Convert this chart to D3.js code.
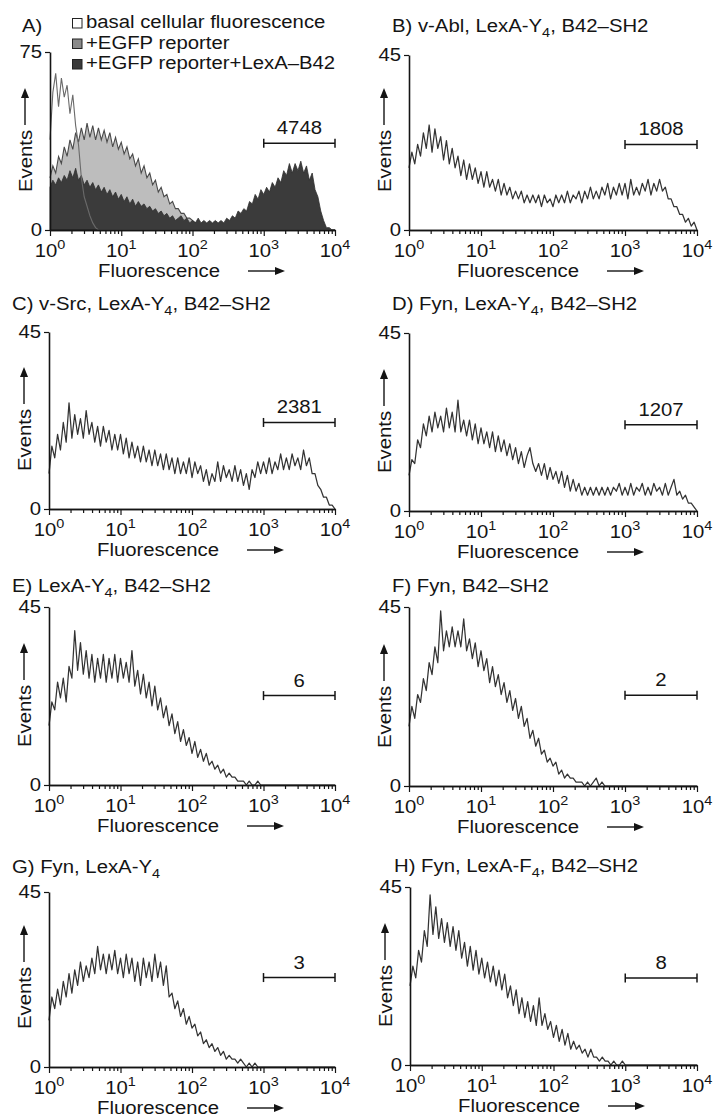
<!DOCTYPE html>
<html><head><meta charset="utf-8">
<script src="https://cdn.jsdelivr.net/npm/d3@7"></script>
<style>html,body{margin:0;padding:0;background:#fff}</style>
</head><body><svg id="c" width="715" height="1117"></svg>
<script>
// ---------- DATA ----------
// histogram channels: log10(fluorescence) from 0 to 4 (bins evenly spaced in log)
const channelExp = d3.range(101).map(i => i * 0.04);

const panelIds = ["A","B","C","D","E","F","G","H"];
const yMaxValues = [75,45,45,45,45,45,45,45];
const gateCounts = ["4748","1808","2381","1207","6","2","3","8"];
const gateRange = [1000, 10000];
const gateLevels = [36.5, 22, 22, 21.8, 22.6, 22.8, 23, 22];

const legendLabels = ["basal cellular fluorescence", "+EGFP reporter", "+EGFP reporter+LexA\u2013B42"];

// titles: [text, kind]  kind: "" normal, "sub" subscript
const titleB = [["B) v-Abl, LexA-Y",""],["4","sub"],[", B42\u2013SH2",""]];
const titleC = [["C) v-Src, LexA-Y",""],["4","sub"],[", B42\u2013SH2",""]];
const titleD = [["D) Fyn, LexA-Y",""],["4","sub"],[", B42\u2013SH2",""]];
const titleE = [["E) LexA-Y",""],["4","sub"],[", B42\u2013SH2",""]];
const titleF = [["F) Fyn, B42\u2013SH2",""]];
const titleG = [["G) Fyn, LexA-Y",""],["4","sub"]];
const titleH = [["H) Fyn, LexA-F",""],["4","sub"],[", B42\u2013SH2",""]];

const xTickExponents = [0,1,2,3,4];

// Panel A: three overlaid histograms
const A_basal = [
38,58,66,52,64,56,61,49,57,44,
36,22,14,10,6,3,1,0,0,0,
0,0,0,0,0,0,0,0,0,0,
0,0,0,0,0,0,0,0,0,0,
0,0,0,0,0,0,0,0,0,0,
0,0,0,0,0,0,0,0,0,0,
0,0,0,0,0,0,0,0,0,0,
0,0,0,0,0,0,0,0,0,0,
0,0,0,0,0,0,0,0,0,0,
0,0,0,0,0,0,0,0,0,0,
0];
const A_egfp = [
22,27,24,31,28,35,31,38,34,41,
37,43,38,45,39,44,38,43,38,42,
37,41,35,39,34,37,32,35,30,32,
27,30,24,27,22,24,19,21,16,18,
14,15,11,12,9,9,7,7,5,5,
4,3,3,2,2,2,1,1,1,1,
1,0,0,0,0,0,0,0,0,0,
0,0,0,0,0,0,0,0,0,0,
0,0,0,0,0,0,0,0,0,0,
0,0,0,0,0,0,0,0,0,0,
0];
const A_lexa = [
18,21,19,22,20,23,21,25,22,26,
21,23,19,21,18,20,17,19,16,18,
15,17,14,16,13,15,12,14,11,13,
10,12,10,11,9,10,8,9,7,8,
6,7,5,6,4,5,6,4,5,3,
4,3,5,3,4,3,4,3,4,3,
4,3,5,4,6,5,8,7,9,8,
12,11,15,13,17,15,18,16,20,18,
22,20,25,23,28,24,28,25,29,24,
27,21,24,17,14,8,4,1,1,0,
0];
const B_counts = [
16,20,17,22,19,25,21,27,20,26,
21,24,18,23,17,21,16,19,14,18,
13,17,13,16,12,15,11,15,11,13,
10,13,9,12,9,11,8,10,8,10,
7,9,7,9,7,9,6,9,7,8,
6,9,7,9,7,10,7,9,8,10,
7,10,8,11,8,10,8,11,9,12,
8,11,9,12,9,12,8,13,9,11,
9,12,10,13,9,12,10,13,10,11,
8,8,6,6,4,4,2,3,1,2,
0];
const C_counts = [
9,16,13,19,15,22,17,27,18,24,
19,23,18,25,19,22,17,21,16,21,
17,20,15,19,15,19,14,18,13,17,
13,16,12,16,12,15,11,15,11,14,
10,14,10,13,9,13,9,12,9,13,
8,12,9,11,7,10,6,9,7,12,
7,11,8,10,7,11,7,10,6,9,
5,10,8,12,9,12,9,13,9,12,
10,14,10,13,10,14,11,13,10,15,
11,13,9,9,6,5,3,3,1,1,
0];
const D_counts = [
9,13,12,18,16,22,19,24,20,25,
21,24,20,26,21,25,20,28,20,23,
19,23,18,22,17,21,17,20,16,20,
15,19,15,18,14,17,13,16,12,15,
11,14,16,12,10,12,9,12,8,11,
8,10,7,10,6,9,5,8,5,7,
4,6,4,6,4,6,4,6,4,6,
4,6,5,7,4,6,4,7,4,6,
5,7,4,6,4,7,5,6,4,7,
4,6,8,4,5,3,4,2,2,1,
0];
const E_counts = [
15,21,19,26,22,27,21,30,27,39,
29,36,28,34,27,33,26,32,27,33,
26,32,27,33,26,32,27,31,26,34,
25,29,23,28,22,26,20,25,19,22,
17,20,15,18,13,16,11,14,10,12,
8,11,7,9,6,8,5,6,4,5,
3,4,2,3,2,2,1,1,1,0,
1,0,0,1,0,0,0,0,0,0,
0,0,0,0,0,0,0,0,0,0,
0,0,0,0,0,0,0,0,0,0,
0];
const F_counts = [
15,20,17,23,21,27,24,31,28,35,
31,44,34,39,35,40,35,39,35,42,
34,37,32,36,30,34,29,32,26,30,
25,28,23,26,21,24,19,22,17,20,
15,17,12,14,10,12,8,9,6,7,
5,6,3,4,2,3,2,2,1,1,
1,0,1,0,1,2,0,1,0,0,
0,0,0,0,0,0,0,0,0,0,
0,0,0,0,0,0,0,0,0,0,
0,0,0,0,0,0,0,0,0,0,
0];
const G_counts = [
12,18,15,20,16,22,18,24,19,25,
21,27,22,26,23,28,24,31,25,29,
24,29,25,30,24,28,23,29,24,28,
22,27,21,28,23,27,22,29,23,27,
21,26,18,19,15,17,13,15,11,13,
10,11,8,9,6,7,5,6,4,5,
3,4,2,3,2,2,1,2,1,0,
1,0,1,0,0,0,0,0,0,0,
0,0,0,0,0,0,0,0,0,0,
0,0,0,0,0,0,0,0,0,0,
0];
const H_counts = [
20,25,22,29,26,34,30,43,33,40,
32,37,31,36,30,35,29,34,27,31,
25,30,24,29,23,27,22,26,21,25,
20,24,19,23,17,20,15,19,13,17,
12,16,11,15,10,17,10,13,9,11,
7,10,6,9,5,8,4,6,4,5,
3,4,2,4,2,2,1,2,1,1,
0,1,0,0,1,0,0,0,0,0,
0,0,0,0,0,0,0,0,0,0,
0,0,0,0,0,0,0,0,0,0,
0];

// ---------- LAYOUT ----------
const layout = [
  {x0:50,  x1:335, T:52,  Z:230,  tx:22,  ty:32},
  {x0:409, x1:697, T:55,  Z:230,  tx:392, ty:32},
  {x0:49,  x1:335, T:332, Z:509,  tx:12,  ty:310},
  {x0:409, x1:697, T:333, Z:511,  tx:392, ty:310},
  {x0:49,  x1:335, T:607, Z:785,  tx:12,  ty:592},
  {x0:409, x1:697, T:607, Z:786,  tx:392, ty:592},
  {x0:49,  x1:335, T:892, Z:1067, tx:12,  ty:873},
  {x0:410, x1:697, T:887, Z:1065, tx:394, ty:872}
];
const titles = [[["A)",""]], titleB, titleC, titleD, titleE, titleF, titleG, titleH];
const singleSeries = [null, B_counts, C_counts, D_counts, E_counts, F_counts, G_counts, H_counts];

// ---------- DRAWING ----------
const svg = d3.select('#c');
svg.append('rect').attr('width',715).attr('height',1117).attr('fill','#fff');
const FONT = '"Liberation Sans", Arial, Helvetica, sans-serif';
const SX = 1.07, FS = 19, SMALL = 13.5;
const INK = '#141414';

function label(parent, x, y, parts, anchor, rot, size) {
  anchor = anchor || 'start'; rot = rot || 0; size = size || FS;
  const g = parent.append('g').attr('transform', `translate(${x},${y}) rotate(${rot}) scale(${SX},1)`);
  const t = g.append('text').attr('text-anchor', anchor).attr('font-family', FONT)
    .attr('font-size', size).attr('fill', INK);
  let shift = 0;
  parts.forEach(p => {
    const s = p[0], k = p[1];
    const target = k === 'sup' ? -8 : k === 'sub' ? 5 : 0;
    const ts = t.append('tspan').attr('dy', target - shift).text(s);
    if (k) ts.attr('font-size', SMALL);
    shift = target;
  });
  return t;
}

function arrowHead(g, pts) {
  g.append('path').attr('d', 'M' + pts.map(p => p.join(',')).join('L') + 'Z').attr('fill', INK);
}

function drawPanel(i) {
  const L = layout[i];
  const yMax = yMaxValues[i];
  const x = d3.scaleLog().domain([1, 1e4]).range([L.x0, L.x1]);
  const y = d3.scaleLinear().domain([0, yMax]).range([L.Z, L.T]);
  const g = svg.append('g');

  const px = e => x(Math.pow(10, e));

  if (i === 0) {
    const mk = arr => channelExp.map((e, j) => ({e, v: arr[j]}));
    const area = d3.area().x(d => px(d.e)).y0(L.Z).y1(d => y(d.v));
    const line = d3.line().x(d => px(d.e)).y(d => y(d.v));
    g.append('path').attr('d', area(mk(A_basal))).attr('fill', '#fff');
    g.append('path').attr('d', area(mk(A_egfp))).attr('fill', '#bdbdbd');
    g.append('path').attr('d', line(mk(A_egfp))).attr('fill', 'none').attr('stroke', '#4a4a4a').attr('stroke-width', 1.1);
    g.append('path').attr('d', area(mk(A_lexa))).attr('fill', '#3b3b3b').attr('stroke', '#2e2e2e').attr('stroke-width', 0.8);
    g.append('path').attr('d', line(mk(A_basal))).attr('fill', 'none').attr('stroke', '#6a6a6a').attr('stroke-width', 1.1);
  } else {
    const data = channelExp.map((e, j) => ({e, v: singleSeries[i][j]}));
    const line = d3.line().x(d => px(d.e)).y(d => y(d.v));
    g.append('path').attr('d', line(data)).attr('fill', 'none')
      .attr('stroke', '#333').attr('stroke-width', 1.25).attr('stroke-linejoin', 'round');
  }

  // x axis: minor and major ticks
  const minor = [];
  xTickExponents.slice(0, 4).forEach(k => { for (let m = 2; m <= 9; m++) minor.push(m * Math.pow(10, k)); });
  const major = xTickExponents.map(k => Math.pow(10, k));
  const xa1 = g.append('g').attr('transform', `translate(0,${L.Z})`)
    .call(d3.axisBottom(x).tickValues(minor).tickSize(4).tickSizeOuter(0).tickFormat(''));
  const xa2 = g.append('g').attr('transform', `translate(0,${L.Z})`)
    .call(d3.axisBottom(x).tickValues(major).tickSize(6).tickSizeOuter(0).tickFormat(''));
  const ya = g.append('g').attr('transform', `translate(${L.x0},0)`)
    .call(d3.axisLeft(y).tickValues([0, yMax]).tickSize(5).tickSizeOuter(0).tickFormat(''));
  [xa1, xa2, ya].forEach(a => {
    a.select('.domain').attr('stroke', INK).attr('stroke-width', 1.6);
    a.selectAll('.tick line').attr('stroke', INK).attr('stroke-width', 1.2);
  });

  // x tick labels
  xTickExponents.forEach(k => {
    label(g, x(Math.pow(10, k)), L.Z + 26.5, [["10",""],[String(k),"sup"]], 'middle');
  });
  // y tick labels
  [0, yMax].forEach(v => label(g, L.x0 - 8, y(v) + 6, [[String(v),""]], 'end'));

  // axis titles
  label(g, L.x0 - 18, L.Z - 69, [["Events",""]], 'middle', -90);
  const ax = L.x0 - 25;
  g.append('line').attr('x1', ax).attr('x2', ax).attr('y1', L.Z - 105).attr('y2', L.Z - 133)
    .attr('stroke', INK).attr('stroke-width', 1.4);
  arrowHead(g, [[ax - 4, L.Z - 132], [ax + 4, L.Z - 132], [ax, L.Z - 142]]);

  label(g, L.x0 + 109, L.Z + 47, [["Fluorescence",""]], 'middle');
  const ay = L.Z + 41;
  g.append('line').attr('x1', L.x0 + 198).attr('x2', L.x0 + 226).attr('y1', ay).attr('y2', ay)
    .attr('stroke', INK).attr('stroke-width', 1.4);
  arrowHead(g, [[L.x0 + 225, ay - 4], [L.x0 + 225, ay + 4], [L.x0 + 235, ay]]);

  // gate marker
  const gy = y(gateLevels[i]);
  const gx0 = x(gateRange[0]), gx1 = x(gateRange[1]);
  g.append('line').attr('x1', gx0).attr('x2', gx1).attr('y1', gy).attr('y2', gy).attr('stroke', INK).attr('stroke-width', 1.5);
  [gx0, gx1].forEach(gx => g.append('line').attr('x1', gx).attr('x2', gx).attr('y1', gy - 4.5).attr('y2', gy + 4.5)
    .attr('stroke', INK).attr('stroke-width', 1.5));
  label(g, (gx0 + gx1) / 2, gy - 9, [[gateCounts[i],""]], 'middle');

  // title
  label(g, L.tx, L.ty, titles[i], 'start');

  if (i === 0) {
    const fills = ['#ffffff', '#8a8a8a', '#3a3a3a'];
    const rows = [28, 48.5, 69];
    legendLabels.forEach((t, j) => {
      g.append('rect').attr('x', 72.5).attr('y', rows[j] - 9.5).attr('width', 9.5).attr('height', 9.5)
        .attr('fill', fills[j]).attr('stroke', '#222').attr('stroke-width', 1);
      label(g, 86, rows[j], [[t,""]], 'start');
    });
  }
}

panelIds.forEach((id, i) => drawPanel(i));
</script>
</body></html>
